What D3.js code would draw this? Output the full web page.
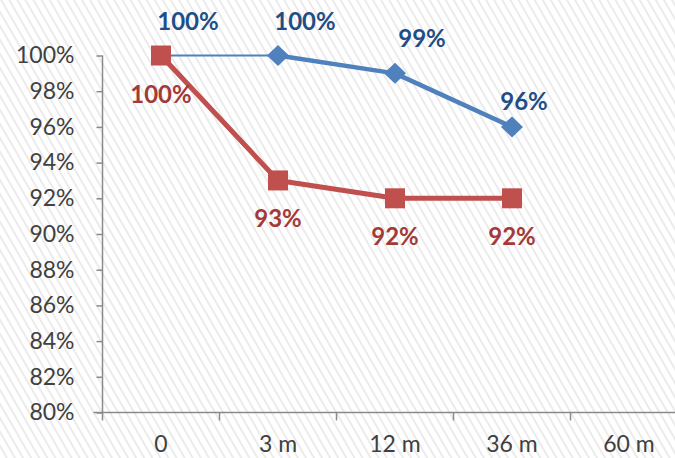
<!DOCTYPE html>
<html>
<head>
<meta charset="utf-8">
<script src="https://cdn.jsdelivr.net/npm/d3@7/dist/d3.min.js"></script>
<style>
  html, body { margin: 0; padding: 0; background: #fff; }
  svg { display: block; }
</style>
</head>
<body>
<div id="chart"></div>
<script>
// Retention over follow-up time, two cohorts
const categories = ["0", "3 m", "12 m", "36 m", "60 m"];
const blueValues = [100, 100, 99, 96];   // first four periods
const redValues  = [100, 93, 92, 92];
const yTicks = [80, 82, 84, 86, 88, 90, 92, 94, 96, 98, 100];

const W = 675, H = 458;
const font = "Lato, 'Open Sans', sans-serif";
const blue = "#4F81BD", red = "#C0504D";
const blueText = "#1F4E87", redText = "#A33A37";

const svg = d3.select("#chart").append("svg")
  .attr("width", W).attr("height", H);

// light diagonal hatching for the background
const defs = svg.append("defs");
const pat = defs.append("pattern")
  .attr("id", "hatch")
  .attr("patternUnits", "userSpaceOnUse")
  .attr("width", 7).attr("height", 7)
  .attr("patternTransform", "rotate(-30)");
pat.append("rect").attr("width", 7).attr("height", 7).attr("fill", "#ffffff");
pat.append("line").attr("x1", 1).attr("y1", 0).attr("x2", 1).attr("y2", 7)
  .attr("stroke", "#ebebeb").attr("stroke-width", 2);
svg.append("rect").attr("width", W).attr("height", H).attr("fill", "url(#hatch)");

const x = d3.scaleBand().domain(categories).range([102.5, 687.5]);
const y = d3.scaleLinear().domain([80, 100]).range([412.5, 55.5]);
const cx = c => x(c) + x.bandwidth() / 2;

// axes
const yAxis = svg.append("g").attr("transform", "translate(102.5,0)")
  .call(d3.axisLeft(y).tickValues(yTicks).tickSize(6).tickPadding(22)
        .tickFormat(d => d + "%"));
const xAxis = svg.append("g").attr("transform", "translate(0,412.5)")
  .call(d3.axisBottom(x).tickSize(0).tickPadding(27));

[yAxis, xAxis].forEach(g => {
  g.select(".domain").attr("stroke", "#8a8a8a").attr("stroke-width", 1.5);
  g.selectAll(".tick line").attr("stroke", "#8a8a8a").attr("stroke-width", 1.5);
  g.selectAll("text").attr("fill", "#404040").attr("font-family", font)
    .attr("font-size", 23);
});
yAxis.select(".domain").attr("d", `M0,${y(100)}V${y(80) + 8}`);
xAxis.select(".domain").attr("d", `M${x.range()[0] - 9},0H${W}`);
// ticks on the category boundaries
xAxis.selectAll(".bound").data(categories.slice(1)).enter().append("line")
  .attr("class", "bound")
  .attr("x1", d => x(d)).attr("x2", d => x(d))
  .attr("y1", 0).attr("y2", 8)
  .attr("stroke", "#8a8a8a").attr("stroke-width", 1.5);
xAxis.selectAll(".tick text").attr("dy", "0.55em");

const blueData = blueValues.map((v, i) => ({ c: categories[i], v }));
const redData  = redValues.map((v, i) => ({ c: categories[i], v }));
const line = d3.line().x(d => cx(d.c)).y(d => y(d.v));

// blue series: thin first segment, thick afterwards
svg.append("path").attr("d", line(blueData.slice(0, 2)))
  .attr("fill", "none").attr("stroke", blue).attr("stroke-width", 2.2);
svg.append("path").attr("d", line(blueData.slice(1)))
  .attr("fill", "none").attr("stroke", blue).attr("stroke-width", 4.5)
  .attr("stroke-linejoin", "round");

// red series
svg.append("path").attr("d", line(redData))
  .attr("fill", "none").attr("stroke", red).attr("stroke-width", 5)
  .attr("stroke-linejoin", "round");

// markers
svg.selectAll(".diamond").data(blueData.slice(1)).enter().append("path")
  .attr("transform", d => `translate(${cx(d.c)},${y(d.v)})`)
  .attr("d", "M0,-10.5L11,0L0,10.5L-11,0Z")
  .attr("fill", blue);
svg.selectAll(".square").data(redData).enter().append("rect")
  .attr("x", d => cx(d.c) - 10).attr("y", d => y(d.v) - 10)
  .attr("width", 20).attr("height", 20)
  .attr("fill", red);

// value labels
svg.selectAll(".blab").data(blueData).enter().append("text")
  .attr("x", (d, i) => cx(d.c) + (i < 3 ? 27 : 12))
  .attr("y", (d, i) => y(d.v) - (i < 3 ? 26 : 17))
  .attr("text-anchor", "middle")
  .attr("font-family", font).attr("font-weight", "bold").attr("font-size", 24)
  .attr("fill", blueText)
  .text(d => d.v + "%");
svg.selectAll(".rlab").data(redData).enter().append("text")
  .attr("x", d => cx(d.c))
  .attr("y", d => y(d.v) + 47)
  .attr("text-anchor", "middle")
  .attr("font-family", font).attr("font-weight", "bold").attr("font-size", 24)
  .attr("fill", redText)
  .text(d => d.v + "%");
</script>
</body>
</html>
